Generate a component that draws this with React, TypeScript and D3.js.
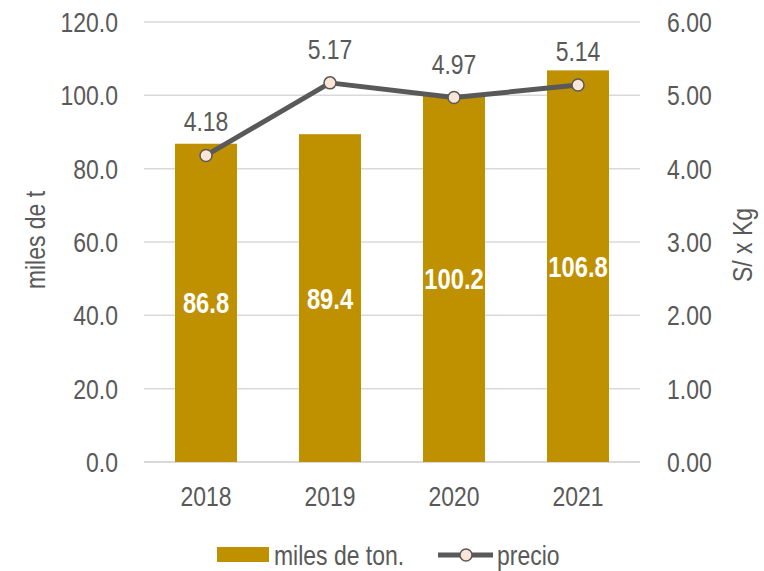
import React from "react";
import * as d3 from "d3";

const categories = ["2018", "2019", "2020", "2021"];
const miles = [86.8, 89.4, 100.2, 106.8];
const precio = [4.18, 5.17, 4.97, 5.14];
const leftTicks = [0, 20, 40, 60, 80, 100, 120];
const rightTicks = [0, 1, 2, 3, 4, 5, 6];

const W = 764;
const H = 571;
const FONT = "'Liberation Sans', Arial, sans-serif";
const TXT = "#595959";
const BAR = "#bf9000";
const LINE = "#595959";
const MARK = "#fbe5d6";
const SX = 0.82;

function NText(props: {
  x: number; y: number; rot?: number; anchor?: "start" | "middle" | "end";
  size?: number; bold?: boolean; fill?: string; dy?: string; children: React.ReactNode;
}) {
  const { x, y, rot = 0, anchor = "start", size = 28, bold = false, fill = TXT, dy = "0" } = props;
  return (
    <g transform={`translate(${x},${y}) rotate(${rot}) scale(${SX},1)`}>
      <text x={0} y={0} dy={dy} textAnchor={anchor} fontSize={size} fontWeight={bold ? "bold" : "normal"} fill={fill}>
        {props.children}
      </text>
    </g>
  );
}

export default function App() {
  const x0 = 144, x1 = 640, yTop = 22, yBot = 462;
  const x = d3.scaleBand<string>().domain(categories).range([x0, x1]).paddingInner(0.5).paddingOuter(0.25);
  const yL = d3.scaleLinear().domain([0, 120]).range([yBot, yTop]);
  const yR = d3.scaleLinear().domain([0, 6]).range([yBot, yTop]);
  const cx = (c: string) => (x(c) as number) + x.bandwidth() / 2;
  const lineGen = d3.line<number>().x((_, i) => cx(categories[i])).y((d) => yR(d));

  return (
    <svg width={W} height={H} style={{ position: "absolute", left: 0, top: 0 }} fontFamily={FONT}>
      <rect width={W} height={H} fill="#fff" />
      {leftTicks.map((t) => (
        <line key={"g" + t} x1={x0} x2={x1} y1={yL(t)} y2={yL(t)} stroke="#d9d9d9" strokeWidth={t === 0 ? 2 : 1.5} />
      ))}
      {leftTicks.map((t) => (
        <NText key={"l" + t} x={118} y={yL(t)} dy="0.36em" anchor="end">
          {d3.format(".1f")(t)}
        </NText>
      ))}
      {rightTicks.map((t) => (
        <NText key={"r" + t} x={667} y={yR(t)} dy="0.36em" anchor="start">
          {d3.format(".2f")(t)}
        </NText>
      ))}
      {categories.map((c, i) => (
        <g key={"b" + c}>
          <rect x={x(c)} y={yL(miles[i])} width={x.bandwidth()} height={yBot - yL(miles[i])} fill={BAR} />
          <NText x={cx(c)} y={(yL(miles[i]) + yBot) / 2} dy="0.36em" anchor="middle" size={29} bold fill="#fff">
            {d3.format(".1f")(miles[i])}
          </NText>
          <NText x={cx(c)} y={496} dy="0.36em" anchor="middle">
            {c}
          </NText>
        </g>
      ))}
      <path d={lineGen(precio) || ""} fill="none" stroke={LINE} strokeWidth={5} strokeLinejoin="round" />
      {categories.map((c, i) => (
        <g key={"p" + c}>
          <circle cx={cx(c)} cy={yR(precio[i])} r={6} fill={MARK} stroke={LINE} strokeWidth={1.5} />
          <NText x={cx(c)} y={yR(precio[i]) - 24} anchor="middle">
            {d3.format(".2f")(precio[i])}
          </NText>
        </g>
      ))}
      <NText x={45} y={240} rot={-90} anchor="middle">miles de t</NText>
      <NText x={752} y={245} rot={-90} anchor="middle">S/ x Kg</NText>
      <rect x={217} y={547} width={52} height={15} fill={BAR} />
      <NText x={274} y={555} dy="0.36em">miles de ton.</NText>
      <line x1={438} x2={493} y1={555} y2={555} stroke={LINE} strokeWidth={5} />
      <circle cx={466} cy={555} r={6} fill={MARK} stroke={LINE} strokeWidth={1.5} />
      <NText x={497} y={555} dy="0.36em">precio</NText>
    </svg>
  );
}
